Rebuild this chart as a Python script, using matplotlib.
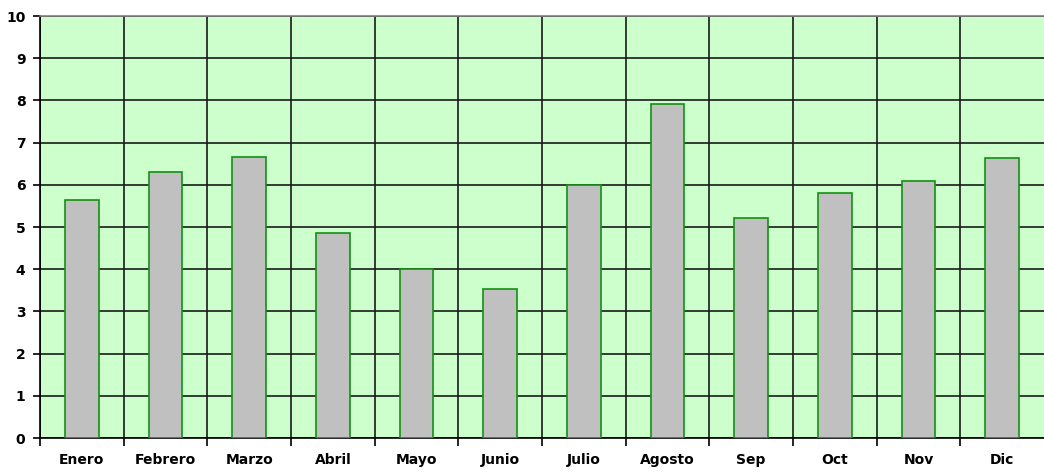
import numpy as np
import matplotlib
matplotlib.use('Agg')
import matplotlib.pyplot as plt

meses = ['Enero', 'Febrero', 'Marzo', 'Abril', 'Mayo', 'Junio',
         'Julio', 'Agosto', 'Sep', 'Oct', 'Nov', 'Dic']
valores = [5.64, 6.30, 6.66, 4.86, 4.00, 3.53,
           6.00, 7.91, 5.21, 5.81, 6.09, 6.64]

plt.rcParams['font.family'] = ['DejaVu Sans']

W, H = 1044, 476
fig = plt.figure(figsize=(W / 100, H / 100), dpi=100)
ax = fig.add_axes([40 / W, (H - 438) / H, 1004 / W, 422 / H])
ax.set_facecolor('#ccffcc')

x = np.arange(len(meses))
ax.bar(x, valores, width=0.4, color='#c0c0c0', edgecolor='#129112',
       linewidth=1.2, zorder=3)

ax.set_xlim(-0.5, len(meses) - 0.5)
ax.set_ylim(0, 10)
ax.set_yticks(range(0, 11))
ax.set_xticks(x)
ax.set_xticklabels(meses)
ax.set_xticks(np.arange(-0.5, len(meses) - 1), minor=True)

ax.grid(True, which='major', axis='y', color='#1a1a1a', linewidth=1.2, zorder=1)
ax.grid(True, which='minor', axis='x', color='#1a1a1a', linewidth=1.2, zorder=1)
ax.tick_params(axis='x', which='major', length=0, pad=11)
ax.tick_params(axis='x', which='minor', length=6, width=1.2, direction='out')
ax.tick_params(axis='y', length=5, width=1.2, direction='out', pad=5.5)

for lbl in ax.get_xticklabels() + ax.get_yticklabels():
    lbl.set_fontweight('bold')
    lbl.set_fontsize(10)

ax.spines['right'].set_visible(False)
ax.spines['top'].set_color('#808080')
ax.spines['left'].set_color('black')
ax.spines['bottom'].set_color('black')
for s in ('left', 'bottom', 'top'):
    ax.spines[s].set_linewidth(1.2)

fig.savefig('out.png', dpi=100, facecolor='white')
